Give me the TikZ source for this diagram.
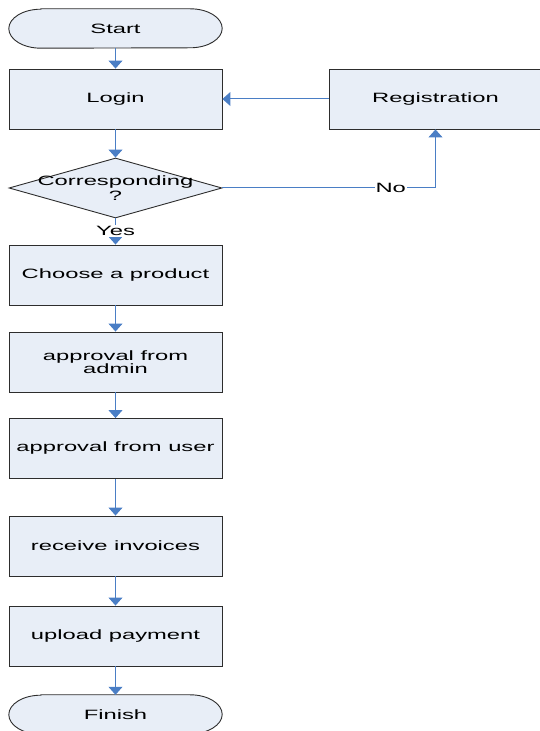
\documentclass[tikz,border=0pt]{standalone}
\usepackage{fontspec}
\setmainfont{Liberation Sans}[FakeStretch=1.76]
\usetikzlibrary{arrows.meta,shapes.geometric,calc,backgrounds}
\definecolor{boxfill}{RGB}{232,238,247}
\definecolor{flowblue}{RGB}{74,126,197}
\definecolor{boxline}{RGB}{45,45,45}
\begin{document}
\begin{tikzpicture}[x=1pt,y=1pt,
  every node/.style={font=\fontsize{13.5}{13}\selectfont},
  procbox/.style={rectangle, draw=boxline, fill=boxfill, line width=0.9pt,
    minimum width=213pt, minimum height=60pt, inner sep=0pt, align=center},
  termnode/.style={rectangle, minimum width=213pt, minimum height=39pt, inner sep=0pt},
  termline/.style={draw=boxline, fill=boxfill, line width=0.9pt},
  decision/.style={diamond, draw=boxline, fill=boxfill, line width=0.9pt,
    minimum width=213pt, minimum height=60pt, inner sep=0pt},
  flow/.style={draw=flowblue, line width=1pt,
    -{Triangle[width=14pt,length=8pt]}},
  flowlabel/.style={fill=white, inner sep=1pt}
]
\useasboundingbox (0,0) rectangle (539,731);

% terminals and process steps
\node[termnode] (start) at (115.5,702.5) {Start};
\node[procbox] (login) at (115.5,632) {Login};
\node[procbox] (reg) at (435.5,632) {Registration};
\node[decision, label={[align=center, font=\fontsize{13.5}{15}\selectfont]center:Corresponding\\?}] (dec) at (115.5,543) {};
\node[procbox] (choose) at (115.5,456) {Choose a product};
\node[procbox] (admin) at (115.5,369) {approval from\\admin};
\node[procbox] (user) at (115.5,282.5) {approval from user};
\node[procbox] (invoice) at (115.5,185) {receive invoices};
\node[procbox] (payment) at (115.5,95) {upload payment};
\node[termnode] (finish) at (115.5,16.5) {Finish};

% rounded outlines of the two terminals, drawn behind their text
\begin{scope}[on background layer]
  \foreach \t in {start,finish}{
    \path[termline] ($(\t.north west)+(32,0)$) -- ($(\t.north east)+(-32,0)$)
      arc[start angle=90, end angle=-90, x radius=32, y radius=19.5]
      -- ($(\t.south west)+(32,0)$)
      arc[start angle=270, end angle=90, x radius=32, y radius=19.5] -- cycle;
  }
\end{scope}

% connectors
\draw[flow] (start) -- (login);
\draw[flow] (reg) -- (login);
\draw[flow] (login) -- (dec);
\draw[flow] (dec.east) -- node[flowlabel, pos=0.79] {No} (dec.east -| reg.south) -- (reg.south);
\draw[flow] (dec.south) -- node[flowlabel, pos=0.48] {Yes} (choose.north);
\draw[flow] (choose) -- (admin);
\draw[flow] (admin) -- (user);
\draw[flow] (user) -- (invoice);
\draw[flow] (invoice) -- (payment);
\draw[flow] (payment) -- (finish);
\end{tikzpicture}
\end{document}
